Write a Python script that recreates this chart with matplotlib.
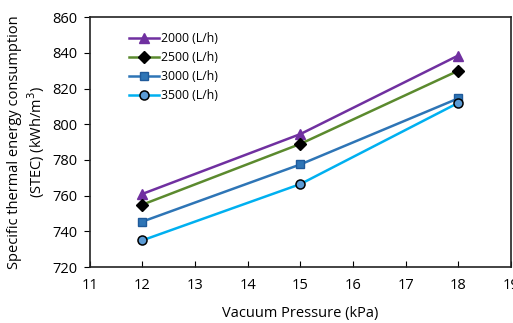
import numpy as np
import matplotlib
matplotlib.use("Agg")
import matplotlib.pyplot as plt

plt.rcParams['font.family'] = ['Open Sans', 'DejaVu Sans']

pressure = [12, 15, 18]
stec_2000 = [761, 794.5, 838.5]
stec_2500 = [755, 789, 830]
stec_3000 = [745.5, 777.5, 814.5]
stec_3500 = [735, 766.5, 812]
labels = ["2000 (L/h)", "2500 (L/h)", "3000 (L/h)", "3500 (L/h)"]

fig = plt.figure(figsize=(5.13, 3.23), dpi=100)
ax = fig.add_axes([0.175, 0.173, 0.821, 0.774])

ax.plot(pressure, stec_2000, color="#7030A0", lw=1.8, marker="^", ms=7,
        mfc="#7030A0", mec="#7030A0", label=labels[0])
ax.plot(pressure, stec_2500, color="#5B8A2E", lw=1.8, marker="D", ms=6,
        mfc="black", mec="black", label=labels[1])
ax.plot(pressure, stec_3000, color="#2E75B6", lw=1.8, marker="s", ms=6,
        mfc="#2E75B6", mec="#1F5A9A", label=labels[2])
ax.plot(pressure, stec_3500, color="#00B0F0", lw=1.8, marker="o", ms=6.5,
        mfc="#5B9BD5", mec="black", mew=1.1, label=labels[3])

ax.set_xlim(11, 19)
ax.set_ylim(720, 860)
ax.set_xticks(range(11, 20))
ax.set_yticks(range(720, 861, 20))
ax.tick_params(axis='x', direction='in', length=4, labelsize=10.5, pad=8)
ax.tick_params(axis='y', direction='out', length=4, labelsize=10.5, pad=5)
for s in ax.spines.values():
    s.set_linewidth(1.2)
    s.set_color("#222222")

ax.set_xlabel("Vacuum Pressure (kPa)", fontsize=10.5, labelpad=9)
ax.set_ylabel("Specific thermal energy consumption\n(STEC) (kWh/m$^3$)", fontsize=10.5,
              labelpad=4)

leg = ax.legend(loc="upper left", bbox_to_anchor=(0.068, 0.985), frameon=False,
                fontsize=8.8, handlelength=2.45, handletextpad=0.15,
                labelspacing=0.5)

fig.savefig("out.png", dpi=100)
